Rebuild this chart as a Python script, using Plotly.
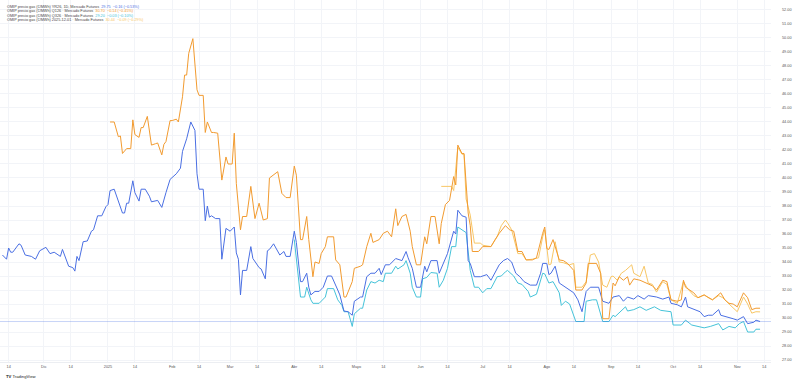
import plotly.graph_objects as go

# ---------------- data ----------------
blue_name = "OMIP precio gas (€/MWh) YR26, 1D, Mercado Futuros"
orange_name = "OMIP precio gas (€/MWh) Q126 · Mercado Futuros"
cyan_name = "OMIP precio gas (€/MWh) Q326 · Mercado Futuros"
light_name = "OMIP precio gas (€/MWh) 2025-12-01 · Mercado Futuros"

blue_change = "29.75  −0.16 (−0.53%)"
orange_change = "30.70  −0.14 (−0.45%)"
cyan_change = "29.20  −0.03 (−0.10%)"
light_change = "30.44  −0.09 (−0.29%)"

blue_dates = [
    "2024-11-11", "2024-11-13", "2024-11-14", "2024-11-15", "2024-11-16", "2024-11-19", "2024-11-20", "2024-11-22", "2024-11-25", "2024-11-27", "2024-11-29",
    "2024-12-02", "2024-12-04", "2024-12-06", "2024-12-09", "2024-12-10", "2024-12-13", "2024-12-15", "2024-12-16", "2024-12-17", "2024-12-18", "2024-12-20", "2024-12-22", "2024-12-24", "2024-12-25", "2024-12-27", "2024-12-29", "2024-12-31",
    "2025-01-01", "2025-01-02", "2025-01-04", "2025-01-06", "2025-01-08", "2025-01-09", "2025-01-10", "2025-01-11", "2025-01-13", "2025-01-14", "2025-01-16", "2025-01-17", "2025-01-19", "2025-01-21", "2025-01-22", "2025-01-25", "2025-01-27", "2025-01-29", "2025-01-31",
    "2025-02-03", "2025-02-05", "2025-02-06", "2025-02-08", "2025-02-10", "2025-02-12", "2025-02-13", "2025-02-14", "2025-02-16", "2025-02-17", "2025-02-18", "2025-02-19", "2025-02-20", "2025-02-22", "2025-02-24", "2025-02-25", "2025-02-27",
    "2025-03-01", "2025-03-03", "2025-03-04", "2025-03-05", "2025-03-06", "2025-03-07", "2025-03-09", "2025-03-11", "2025-03-12", "2025-03-15", "2025-03-16", "2025-03-18", "2025-03-19", "2025-03-20", "2025-03-22", "2025-03-25", "2025-03-27", "2025-03-28", "2025-03-30",
    "2025-04-01", "2025-04-02", "2025-04-04", "2025-04-05", "2025-04-07", "2025-04-08", "2025-04-09", "2025-04-11", "2025-04-13", "2025-04-15", "2025-04-17", "2025-04-19", "2025-04-22", "2025-04-23", "2025-04-25", "2025-04-27", "2025-04-29", "2025-04-30",
    "2025-05-03", "2025-05-04", "2025-05-06", "2025-05-08", "2025-05-10", "2025-05-12", "2025-05-13", "2025-05-15", "2025-05-17", "2025-05-20", "2025-05-23", "2025-05-25", "2025-05-26", "2025-05-28", "2025-05-30",
    "2025-06-01", "2025-06-03", "2025-06-04", "2025-06-06", "2025-06-09", "2025-06-10", "2025-06-12", "2025-06-14", "2025-06-17", "2025-06-18", "2025-06-19", "2025-06-21", "2025-06-23", "2025-06-24", "2025-06-25", "2025-06-27", "2025-06-30",
    "2025-07-03", "2025-07-05", "2025-07-06", "2025-07-09", "2025-07-11", "2025-07-13", "2025-07-15", "2025-07-17", "2025-07-19", "2025-07-21", "2025-07-24", "2025-07-27", "2025-07-29", "2025-07-30",
    "2025-08-01", "2025-08-02", "2025-08-03", "2025-08-05", "2025-08-07", "2025-08-10", "2025-08-12", "2025-08-14", "2025-08-16", "2025-08-18", "2025-08-20", "2025-08-22", "2025-08-26", "2025-08-28", "2025-08-31",
    "2025-09-02", "2025-09-05", "2025-09-07", "2025-09-09", "2025-09-12", "2025-09-14", "2025-09-17", "2025-09-19", "2025-09-23", "2025-09-26", "2025-09-29", "2025-09-30",
    "2025-10-03", "2025-10-05", "2025-10-07", "2025-10-08", "2025-10-11", "2025-10-14", "2025-10-16", "2025-10-18", "2025-10-20", "2025-10-23", "2025-10-24", "2025-10-27", "2025-10-30",
    "2025-11-01", "2025-11-04", "2025-11-06", "2025-11-09", "2025-11-10", "2025-11-12",
]
blue_values = [
    34.5, 34.2, 35.0, 34.7, 34.7, 35.3, 35.2, 34.5, 34.4, 34.2, 34.8,
    35.05, 34.6, 34.7, 34.4, 34.9, 33.7, 33.6, 33.35, 34.4, 34.1, 35.45, 35.5, 36.2, 36.3, 37.3, 37.3, 37.95,
    38.1, 39.1, 39.2, 38.3, 37.5, 37.5, 38.2, 38.2, 39.8, 38.95, 38.35, 39.2, 39.2, 38.7, 38.3, 38.4, 37.9, 38.95, 39.9,
    40.3, 40.7, 41.9, 42.8, 44.0, 43.4, 40.3, 39.2, 39.2, 36.95, 38.0, 37.2, 37.3, 37.1, 37.1, 34.2, 36.4,
    36.2, 36.5, 34.65, 34.2, 31.65, 33.4, 33.4, 35.1, 34.25, 33.6, 33.5, 32.8, 34.8, 34.9, 35.3, 34.5, 34.75, 34.4, 34.4,
    36.2, 35.4, 32.6, 32.6, 33.2, 32.2, 31.65, 31.9, 31.9, 32.2, 33.0, 33.0, 32.0, 31.65, 30.5, 30.45, 30.2, 31.2,
    31.5, 31.5, 32.95, 33.2, 33.2, 33.55, 33.1, 33.8, 33.8, 34.25, 34.1, 34.75, 34.3, 33.55, 32.2,
    32.2, 33.7, 33.3, 34.1, 34.1, 33.2, 33.9, 34.6, 36.2, 36.0, 37.7, 37.3, 37.2, 34.1, 33.9, 32.95, 32.95,
    33.1, 32.7, 33.0, 33.8, 34.1, 34.25, 34.0, 33.2, 32.95, 32.6, 32.35, 32.35, 33.2, 33.9,
    33.9, 33.1, 33.2, 33.7, 32.5, 32.2, 32.0, 31.8, 31.3, 30.45, 31.9, 32.2, 32.2, 31.2, 31.05,
    31.5, 31.6, 31.2, 31.5, 31.35, 31.6, 31.35, 31.6, 31.5, 31.35, 31.5, 31.05,
    30.95, 30.8, 31.5, 30.8, 30.6, 30.45, 30.1, 30.2, 30.2, 30.6, 30.2, 30.1, 29.95,
    29.85, 30.1, 29.6, 29.7, 29.85, 29.75,
]

orange_dates = [
    "2025-01-02", "2025-01-04", "2025-01-06", "2025-01-07", "2025-01-08", "2025-01-10", "2025-01-12", "2025-01-13", "2025-01-14", "2025-01-16", "2025-01-17", "2025-01-18", "2025-01-20", "2025-01-21", "2025-01-22", "2025-01-24", "2025-01-25", "2025-01-27", "2025-01-28", "2025-01-29", "2025-01-31",
    "2025-02-01", "2025-02-03", "2025-02-04", "2025-02-06", "2025-02-07", "2025-02-08", "2025-02-09", "2025-02-11", "2025-02-13", "2025-02-14", "2025-02-16", "2025-02-17", "2025-02-18", "2025-02-20", "2025-02-21", "2025-02-23", "2025-02-25", "2025-02-27", "2025-02-28",
    "2025-03-02", "2025-03-03", "2025-03-04", "2025-03-06", "2025-03-07", "2025-03-09", "2025-03-11", "2025-03-13", "2025-03-15", "2025-03-17", "2025-03-19", "2025-03-20", "2025-03-24", "2025-03-26", "2025-03-28", "2025-03-30",
    "2025-04-01", "2025-04-02", "2025-04-04", "2025-04-05", "2025-04-07", "2025-04-08", "2025-04-10", "2025-04-11", "2025-04-13", "2025-04-14", "2025-04-16", "2025-04-17", "2025-04-20", "2025-04-21", "2025-04-23", "2025-04-25", "2025-04-26", "2025-04-29", "2025-04-30",
    "2025-05-03", "2025-05-04", "2025-05-06", "2025-05-08", "2025-05-09", "2025-05-11", "2025-05-12", "2025-05-14", "2025-05-16", "2025-05-18", "2025-05-20", "2025-05-21", "2025-05-23", "2025-05-25", "2025-05-27", "2025-05-28", "2025-05-30",
    "2025-06-01", "2025-06-03", "2025-06-04", "2025-06-06", "2025-06-08", "2025-06-10", "2025-06-11", "2025-06-13", "2025-06-15", "2025-06-17", "2025-06-18", "2025-06-19", "2025-06-21", "2025-06-22", "2025-06-24", "2025-06-25", "2025-06-26", "2025-06-29",
    "2025-07-01", "2025-07-05", "2025-07-07", "2025-07-09", "2025-07-12", "2025-07-14", "2025-07-16", "2025-07-18", "2025-07-20", "2025-07-22", "2025-07-25", "2025-07-27", "2025-07-30", "2025-07-31",
    "2025-08-01", "2025-08-02", "2025-08-04", "2025-08-07", "2025-08-09", "2025-08-11", "2025-08-14", "2025-08-15", "2025-08-18", "2025-08-20", "2025-08-21", "2025-08-25", "2025-08-27", "2025-08-28", "2025-08-31",
    "2025-09-02", "2025-09-03", "2025-09-05", "2025-09-07", "2025-09-09", "2025-09-10", "2025-09-12", "2025-09-15", "2025-09-18", "2025-09-21", "2025-09-23", "2025-09-26", "2025-09-28", "2025-09-30",
    "2025-10-03", "2025-10-05", "2025-10-06", "2025-10-07", "2025-10-11", "2025-10-13", "2025-10-16", "2025-10-18", "2025-10-20", "2025-10-24", "2025-10-26", "2025-10-28", "2025-10-30",
    "2025-11-01", "2025-11-04", "2025-11-06", "2025-11-08", "2025-11-10", "2025-11-12",
]
orange_values = [
    44.0, 44.0, 42.95, 43.0, 41.75, 42.1, 42.1, 44.15, 43.1, 42.9, 43.6, 43.6, 44.4, 43.3, 42.35, 42.45, 42.5, 41.65, 42.4, 42.6, 44.1,
    44.1, 44.2, 44.0, 45.8, 47.35, 47.35, 48.9, 49.95, 46.3, 45.9, 45.9, 43.25, 44.0, 43.25, 43.25, 43.2, 39.85, 41.5, 41.0,
    41.0, 43.2, 39.6, 36.3, 37.25, 37.25, 39.4, 37.1, 38.2, 37.0, 37.1, 40.0, 40.45, 38.9, 38.6, 38.6,
    40.85, 40.2, 35.6, 35.6, 37.25, 35.6, 32.95, 34.0, 33.9, 34.6, 35.1, 35.8, 35.8, 34.15, 33.8, 31.5, 31.5, 32.6, 33.55,
    33.7, 33.8, 35.1, 36.05, 35.4, 35.5, 35.6, 36.05, 36.2, 35.8, 37.8, 36.6, 37.25, 37.4, 36.2, 35.1, 33.8,
    33.8, 35.8, 35.3, 37.25, 37.25, 35.3, 36.75, 38.1, 38.4, 40.1, 39.5, 42.35, 41.75, 41.75, 37.5, 36.6, 34.75, 34.75,
    35.1, 35.1, 35.6, 36.05, 36.6, 36.3, 36.2, 34.75, 34.75, 34.15, 34.15, 34.3, 36.05, 36.5,
    34.95, 34.9, 35.6, 34.15, 34.1, 33.9, 33.4, 32.0, 32.0, 32.5, 33.9, 33.9, 33.2, 29.95, 29.95,
    32.5, 32.3, 32.95, 32.7, 32.95, 32.35, 32.8, 32.7, 32.5, 32.3, 32.0, 32.7, 32.6, 31.3,
    31.2, 31.3, 32.7, 32.2, 31.8, 31.45, 31.65, 31.45, 31.3, 31.8, 31.3, 31.05, 31.0,
    30.8, 31.8, 31.45, 30.6, 30.7, 30.7,
]

cyan_dates = [
    "2025-04-01", "2025-04-04", "2025-04-06", "2025-04-07", "2025-04-09", "2025-04-10", "2025-04-13", "2025-04-16", "2025-04-17", "2025-04-20", "2025-04-22", "2025-04-24", "2025-04-25", "2025-04-27", "2025-04-29", "2025-04-30",
    "2025-05-03", "2025-05-04", "2025-05-06", "2025-05-08", "2025-05-10", "2025-05-12", "2025-05-14", "2025-05-15", "2025-05-18", "2025-05-20", "2025-05-21", "2025-05-24", "2025-05-25", "2025-05-27", "2025-05-28", "2025-05-30",
    "2025-06-01", "2025-06-02", "2025-06-04", "2025-06-06", "2025-06-09", "2025-06-10", "2025-06-12", "2025-06-14", "2025-06-16", "2025-06-18", "2025-06-19", "2025-06-21", "2025-06-23", "2025-06-25", "2025-06-27", "2025-06-29",
    "2025-07-01", "2025-07-03", "2025-07-05", "2025-07-08", "2025-07-10", "2025-07-12", "2025-07-13", "2025-07-16", "2025-07-18", "2025-07-20", "2025-07-23", "2025-07-24", "2025-07-27", "2025-07-30", "2025-07-31",
    "2025-08-02", "2025-08-04", "2025-08-07", "2025-08-08", "2025-08-10", "2025-08-12", "2025-08-15", "2025-08-19", "2025-08-20", "2025-08-23", "2025-08-25", "2025-08-28", "2025-08-31",
    "2025-09-02", "2025-09-03", "2025-09-05", "2025-09-08", "2025-09-09", "2025-09-12", "2025-09-15", "2025-09-18", "2025-09-22", "2025-09-25", "2025-09-30",
    "2025-10-01", "2025-10-05", "2025-10-07", "2025-10-10", "2025-10-13", "2025-10-16", "2025-10-19", "2025-10-23", "2025-10-25", "2025-10-28", "2025-10-31",
    "2025-11-02", "2025-11-04", "2025-11-06", "2025-11-09", "2025-11-10", "2025-11-12",
]
cyan_values = [
    35.6, 31.5, 31.5, 32.2, 31.3, 31.05, 31.05, 31.5, 32.1, 32.1, 31.3, 30.9, 30.45, 30.45, 29.4, 30.3,
    30.7, 30.7, 32.0, 32.6, 32.5, 32.7, 32.6, 33.2, 33.2, 33.7, 33.5, 33.8, 34.1, 33.2, 32.2, 31.5,
    31.5, 32.8, 32.9, 33.25, 33.2, 32.2, 32.7, 33.55, 35.1, 35.1, 36.5, 36.3, 36.1, 33.4, 32.2, 32.2,
    31.8, 32.1, 32.1, 32.95, 33.0, 33.3, 33.4, 33.0, 32.5, 32.4, 31.9, 31.5, 31.7, 33.2, 33.15,
    32.5, 32.6, 31.8, 30.9, 31.2, 31.0, 29.75, 29.75, 31.2, 31.3, 31.3, 29.75, 29.75,
    30.2, 30.1, 30.4, 30.8, 30.5, 30.6, 30.8, 30.55, 30.8, 30.55, 30.45,
    29.5, 29.5, 29.85, 29.5, 29.4, 29.3, 29.4, 29.6, 29.15, 29.4, 29.3,
    29.6, 29.75, 29.0, 29.0, 29.2, 29.2,
]

light_dates = [
    "2025-06-11", "2025-06-16", "2025-06-17", "2025-06-19", "2025-06-21", "2025-06-22", "2025-06-23", "2025-06-25", "2025-06-27", "2025-06-30",
    "2025-07-01", "2025-07-05", "2025-07-08", "2025-07-10", "2025-07-12", "2025-07-13", "2025-07-15", "2025-07-18", "2025-07-20", "2025-07-22", "2025-07-25", "2025-07-28", "2025-07-30", "2025-07-31",
    "2025-08-02", "2025-08-03", "2025-08-05", "2025-08-07", "2025-08-09", "2025-08-12", "2025-08-14", "2025-08-15", "2025-08-18", "2025-08-20", "2025-08-22", "2025-08-24", "2025-08-26", "2025-08-28", "2025-08-30",
    "2025-09-01", "2025-09-02", "2025-09-04", "2025-09-06", "2025-09-08", "2025-09-11", "2025-09-12", "2025-09-15", "2025-09-17", "2025-09-19", "2025-09-21", "2025-09-23", "2025-09-26", "2025-09-28", "2025-09-30",
    "2025-10-03", "2025-10-06", "2025-10-08", "2025-10-11", "2025-10-13", "2025-10-16", "2025-10-18", "2025-10-20", "2025-10-23", "2025-10-25", "2025-10-28", "2025-10-30",
    "2025-11-01", "2025-11-04", "2025-11-06", "2025-11-08", "2025-11-10", "2025-11-12",
]
light_values = [
    39.4, 39.4, 39.1, 42.2, 41.7, 41.7, 38.5, 37.35, 35.35, 35.35,
    35.2, 35.1, 35.8, 36.6, 37.0, 36.8, 36.3, 34.6, 34.6, 34.15, 34.2, 34.3, 35.8, 36.3,
    33.8, 33.85, 35.45, 34.0, 33.95, 33.8, 33.9, 32.2, 32.2, 32.6, 34.5, 34.6, 34.0, 32.35, 32.2,
    32.95, 33.0, 32.7, 33.2, 33.4, 33.8, 33.2, 32.95, 33.7, 32.5, 32.4, 31.85, 32.6, 32.4, 31.3,
    31.05, 32.6, 32.1, 31.6, 31.45, 31.65, 31.45, 31.3, 31.6, 31.45, 31.0, 30.7,
    30.45, 31.5, 31.0, 30.35, 30.45, 30.44,
]

tick_dates = ["2024-11-14", "2024-12-01", "2024-12-14", "2025-01-01", "2025-01-14", "2025-02-01", "2025-02-14",
              "2025-03-01", "2025-03-14", "2025-04-01", "2025-04-14", "2025-05-01", "2025-05-14", "2025-06-01",
              "2025-06-14", "2025-07-01", "2025-07-14", "2025-08-01", "2025-08-14", "2025-09-01", "2025-09-14",
              "2025-10-01", "2025-10-14", "2025-11-01", "2025-11-14"]
tick_labels = ["14", "Dic", "14", "2025", "14", "Feb", "14", "Mar", "14", "Abr", "14", "Mayo", "14", "Jun",
               "14", "Jul", "14", "Ago", "14", "Sep", "14", "Oct", "14", "Nov", "14"]

# ---------------- styling ----------------
C_BLUE = "#4a6fe3"
C_ORANGE = "#f29b30"
C_CYAN = "#45c3d9"
C_LIGHT = "#f8c766"
FONT = "Liberation Sans"
W, H = 800, 382
PLOT_R, PLOT_B = 771, 362

fig = go.Figure()
for dates, vals, col in [(light_dates, light_values, C_LIGHT),
                         (cyan_dates, cyan_values, C_CYAN),
                         (blue_dates, blue_values, C_BLUE),
                         (orange_dates, orange_values, C_ORANGE)]:
    fig.add_trace(go.Scatter(x=dates, y=vals, mode="lines",
                             line=dict(color=col, width=1), showlegend=False,
                             hoverinfo="skip"))

# last-price line of the main series
fig.add_hline(y=blue_values[-1], line=dict(color="rgba(74,111,227,0.30)", width=1))

# header / legend text
legend_rows = [(blue_name, blue_change, C_BLUE),
               (orange_name, orange_change, C_ORANGE),
               (cyan_name, cyan_change, C_CYAN),
               (light_name, light_change, C_LIGHT)]
for i, (name, chg, col) in enumerate(legend_rows):
    ypix = 6.8 + i * 4.5
    fig.add_annotation(
        xref="paper", yref="paper", x=5 / PLOT_R, y=1 - ypix / PLOT_B,
        xanchor="left", yanchor="middle", showarrow=False,
        text=f"{name}  <span style='color:{col}'>{chg}</span>",
        font=dict(family=FONT, size=3.8, color="#444"),
    )

fig.add_annotation(xref="paper", yref="paper", x=4 / PLOT_R, y=-(376 - PLOT_B) / PLOT_B,
                   xanchor="left", yanchor="middle", showarrow=False,
                   text="<b>TV</b> TradingView", font=dict(family=FONT, size=4.2, color="#222"))

fig.update_layout(
    width=W, height=H,
    margin=dict(l=0, r=W - PLOT_R, t=0, b=H - PLOT_B),
    paper_bgcolor="white", plot_bgcolor="white",
    xaxis=dict(type="date", range=["2024-11-09 20:00", "2025-11-17 07:00"],
               tickvals=tick_dates, ticktext=tick_labels, tickangle=0,
               showgrid=True, gridcolor="#f2f4f8", gridwidth=1,
               zeroline=False, showline=True, linecolor="#eceef2", linewidth=1,
               ticks="", tickfont=dict(family=FONT, size=3.8, color="#555")),
    yaxis=dict(side="right", range=[26.86, 52.71], tick0=27, dtick=1, tickformat=".2f",
               showgrid=True, gridcolor="#f2f4f8", gridwidth=1, zeroline=False,
               showline=False, ticks="", ticklabelstandoff=10,
               tickfont=dict(family=FONT, size=3.8, color="#555")),
)

fig.write_html("out.html", config={"displayModeBar": False},
               post_script="document.body.style.margin='0';document.body.style.padding='0';")
